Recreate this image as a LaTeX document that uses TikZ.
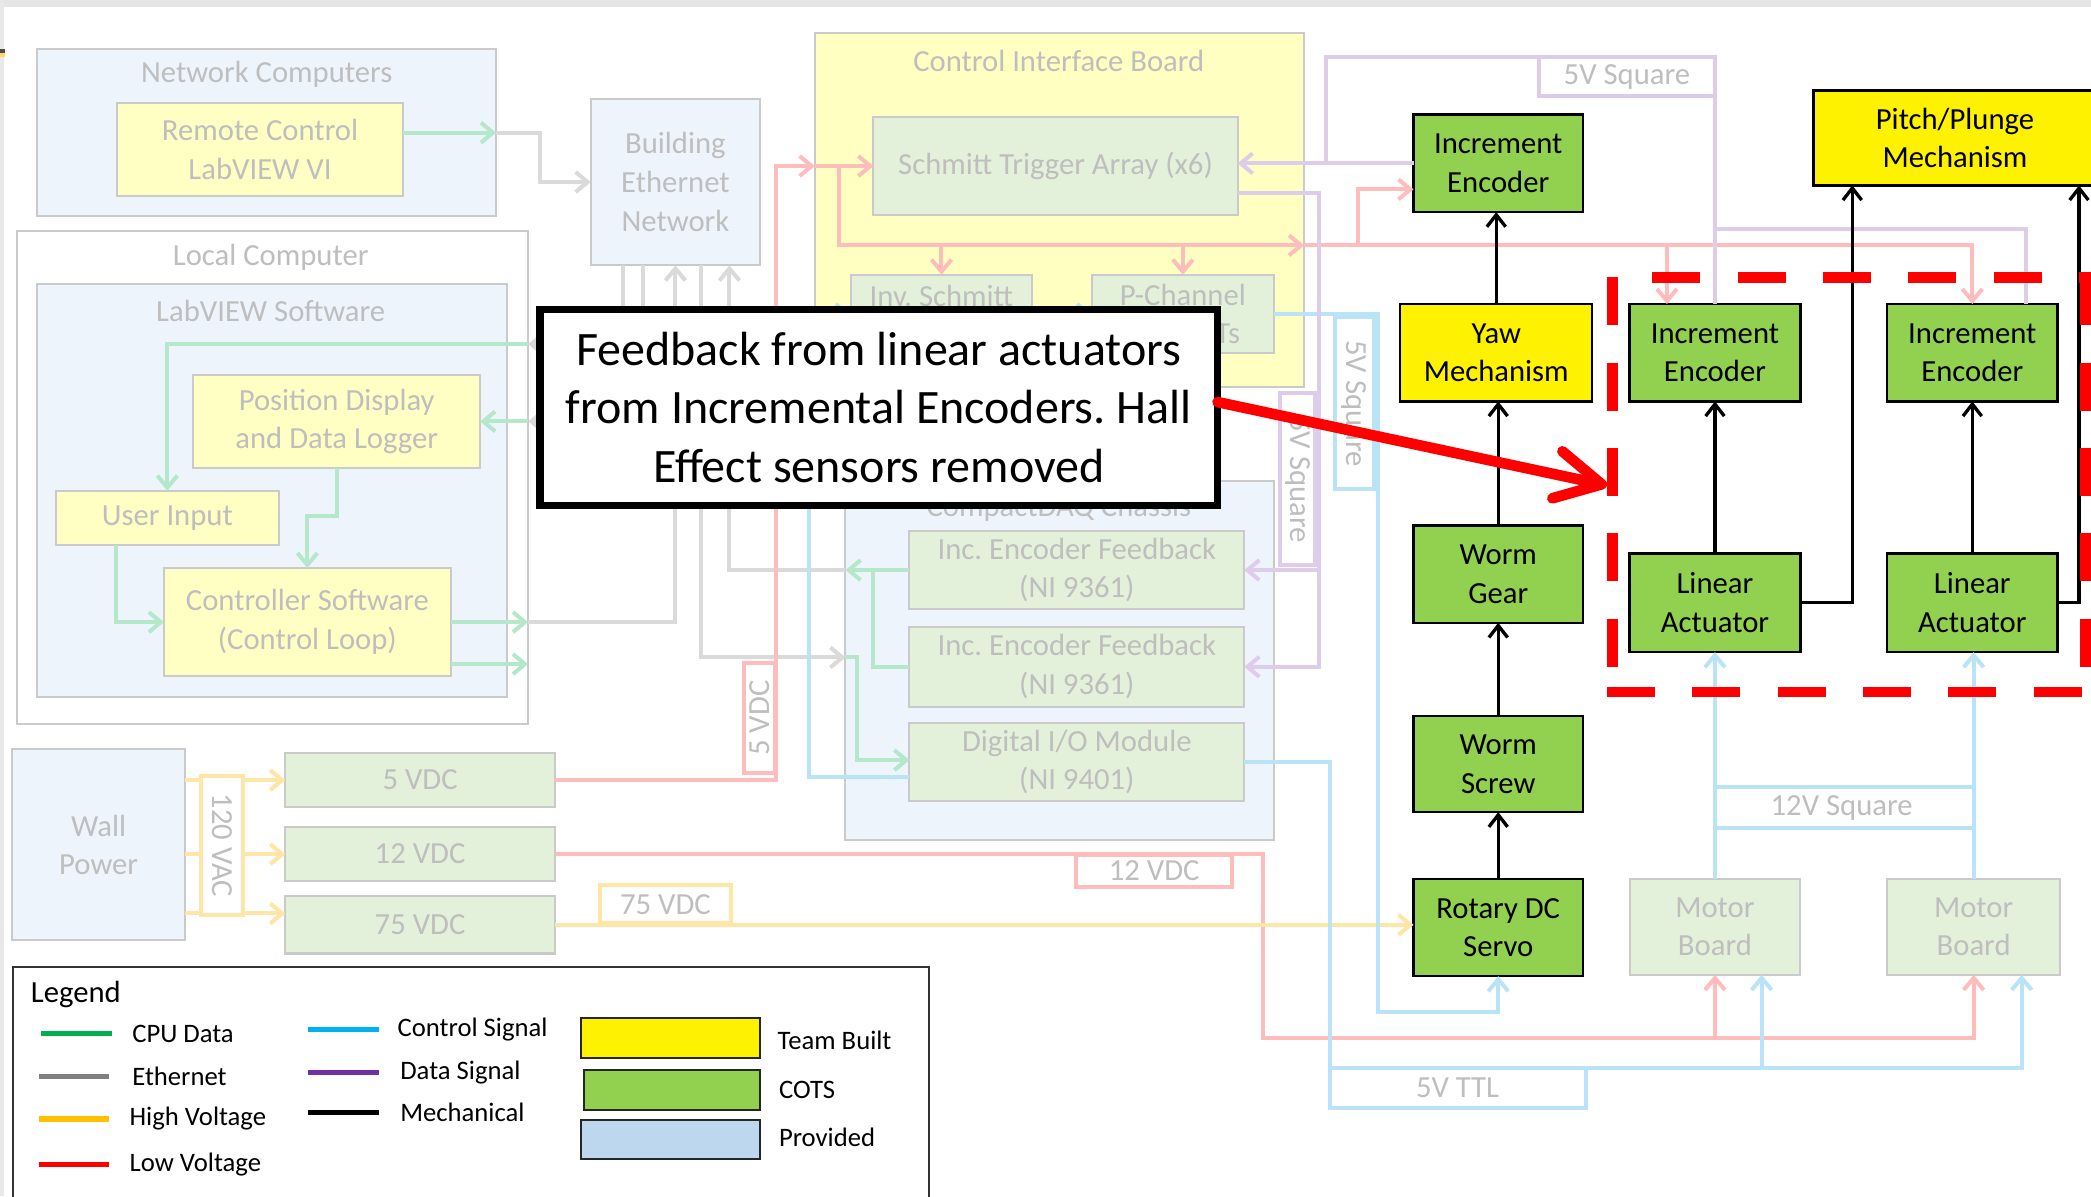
\documentclass[tikz,border=0pt]{standalone}
\usepackage{fontspec}
\setmainfont{Carlito}
\usetikzlibrary{arrows.meta}
\frenchspacing

% faded (background) palette
\definecolor{fgreenl}{HTML}{B5E8CB}
\definecolor{fgrayl}{HTML}{DADADA}
\definecolor{fredl}{HTML}{FFBCBC}
\definecolor{fyell}{HTML}{FFE6A6}
\definecolor{fbluel}{HTML}{B9E4F8}
\definecolor{fpurpl}{HTML}{DECDEA}
\definecolor{ftext}{HTML}{BEBEBE}
\definecolor{fborder}{HTML}{CACACA}
\definecolor{provfill}{HTML}{EEF4FB}
\definecolor{teamfade}{HTML}{FFFFC4}
\definecolor{cotsfade}{HTML}{E3F0DA}
\definecolor{cibfill}{HTML}{FFFFC2}
% solid palette
\definecolor{cotsgreen}{HTML}{92D050}
\definecolor{provblue}{HTML}{BDD7EE}
\definecolor{cpugreen}{HTML}{00B050}
\definecolor{ethgray}{HTML}{808080}
\definecolor{hvorange}{HTML}{FFC000}
\definecolor{ctlblue}{HTML}{00B0F0}
\definecolor{datapurple}{HTML}{7030A0}

% box by corner coordinates: name, style, x1, y1, x2, y2, text
\newcommand\mybox[7]{%
  \pgfmathsetmacro\bw{#5-#3}\pgfmathsetmacro\bh{#6-#4}%
  \pgfmathsetmacro\bcx{(#3+#5)/2}\pgfmathsetmacro\bcy{(#4+#6)/2}%
  \node[#2,minimum width=\bw pt,minimum height=\bh pt] (#1) at (\bcx,\bcy) {#7};}

\begin{document}
\begin{tikzpicture}[x=1pt,y=-1pt,
  box/.style={rectangle,inner sep=0pt,outer sep=0pt,align=center,
    font=\fontsize{23}{29}\selectfont},
  fadebox/.style={box,draw=fborder,line width=1.5pt,text=ftext},
  prov/.style={fadebox,fill=provfill},
  tbf/.style={fadebox,fill=teamfade},
  cbf/.style={fadebox,fill=cotsfade},
  team/.style={box,draw=black,line width=1.8pt,fill=yellow},
  cotsb/.style={box,draw=black,line width=1.8pt,fill=cotsgreen},
  ttl/.style={text=ftext,inner sep=0pt,font=\fontsize{23}{29}\selectfont},
  lbl/.style={box,fill=white,line width=3pt,text=ftext},
  wire/.style={line width=3pt},
  gw/.style={wire,fgreenl},
  ew/.style={wire,fgrayl},
  rw/.style={wire,fredl},
  yw/.style={wire,fyell},
  bw/.style={wire,fbluel},
  pw/.style={wire,fpurpl},
  tip/.style={-{Straight Barb[length=9pt,width=15pt]}},
  mech/.style={line width=2.5pt,black,-{Straight Barb[length=9pt,width=14pt]}},
  dbox/.style={line width=8pt,red,dash pattern=on 36pt off 28pt},
  lgline/.style={line width=4pt},
  lgtext/.style={anchor=west,inner sep=0pt,font=\fontsize{20}{24}\selectfont},
  swatch/.style={rectangle,inner sep=0pt,draw=black!85,line width=1.5pt}
]
\useasboundingbox (0,0) rectangle (1568,897);
\fill[white] (0,0) rectangle (1568,897);
% window edge
\fill[black!10] (0,0) rectangle (1568,5);
\fill[black!9] (0,0) rectangle (3,897);
\fill[black!70] (0,37) rectangle (4,40);
\fill[hvorange!60] (0,40) rectangle (4,43);

% ---------------- containers and faded blocks ----------------
\mybox{netc}{prov}{28}{37}{372}{162}{}
\node[ttl] (netct) at (200,56) {Network Computers};
\mybox{rcvi}{tbf}{88}{77}{302}{147}{Remote Control\\LabVIEW VI}
\mybox{ben}{prov}{443}{74}{570}{199}{Building\\Ethernet\\Network}
\mybox{locc}{fadebox,fill=white}{13}{173}{396}{543}{}
\node[ttl] (locct) at (203,193) {Local Computer};
\mybox{lvsw}{prov}{28}{213}{380}{523}{}
\node[ttl] (lvswt) at (203,233) {LabVIEW Software};
\mybox{posd}{tbf}{145}{281}{360}{351}{Position Display\\and Data Logger}
\mybox{uinp}{tbf}{42}{368}{209}{409}{User Input}
\mybox{ctrl}{tbf}{123}{426}{338}{507}{Controller Software\\(Control Loop)}
\mybox{cib}{fadebox,fill=cibfill}{611}{25}{978}{290}{}
\node[ttl] (cibt) at (794,46) {Control Interface Board};
\mybox{schm}{cbf}{655}{88}{928}{161}{Schmitt Trigger Array (x6)}
\mybox{invs}{cbf}{638}{206}{774}{265}{}
\node[ttl] (invst) at (706,222) {Inv. Schmitt};
\mybox{pch}{cbf}{819}{206}{955}{265}{P-Channel\\MOSFETs}
\mybox{cdaq}{prov}{634}{361}{955}{630}{}
\node[ttl] (cdaqt) at (794,381) {CompactDAQ Chassis};
\mybox{ief1}{cbf}{682}{398}{933}{457}{Inc. Encoder Feedback\\(NI 9361)}
\mybox{ief2}{cbf}{682}{470}{933}{530}{Inc. Encoder Feedback\\(NI 9361)}
\mybox{dio}{cbf}{682}{542}{933}{601}{Digital I/O Module\\(NI 9401)}
\mybox{wall}{prov}{9}{562}{139}{705}{Wall\\Power}
\mybox{v5}{cbf}{214}{565}{416}{605}{5 VDC}
\mybox{v12}{cbf}{214}{620}{416}{661}{12 VDC}
\mybox{v75}{cbf}{214}{672}{416}{715}{75 VDC}
\mybox{mb1}{cbf}{1222}{659}{1350}{731}{Motor\\Board}
\mybox{mb2}{cbf}{1415}{659}{1545}{731}{Motor\\Board}

% ---------------- mechanical chain ----------------
\mybox{enc0}{cotsb}{1060}{86}{1187}{159}{Increment\\Encoder}
\mybox{yaw}{team}{1050}{228}{1194}{301}{Yaw\\Mechanism}
\mybox{wgear}{cotsb}{1060}{394}{1187}{467}{Worm\\Gear}
\mybox{wscrew}{cotsb}{1060}{537}{1187}{609}{Worm\\Screw}
\mybox{rot}{cotsb}{1060}{659}{1187}{732}{Rotary DC\\Servo}
\mybox{enc1}{cotsb}{1222}{228}{1350}{301}{Increment\\Encoder}
\mybox{enc2}{cotsb}{1415}{228}{1543}{301}{Increment\\Encoder}
\mybox{la1}{cotsb}{1222}{415}{1350}{489}{Linear\\Actuator}
\mybox{la2}{cotsb}{1415}{415}{1543}{489}{Linear\\Actuator}
\mybox{pp}{team}{1360}{68}{1572}{139}{Pitch/Plunge\\Mechanism}

% ---------------- junction points ----------------
\coordinate (ej1) at (405,99.5);
\coordinate (lcin1) at (396,258);
\coordinate (lcin2) at (396,316);
\coordinate (bs1) at (467,199);
\coordinate (bs2) at (482,199);
\coordinate (bs4) at (526,199);
\coordinate (bs5) at (547,199);
\coordinate (cdin) at (634,493);
\coordinate (gj1) at (655,427.5);
\coordinate (rj1) at (582,124.5);
\coordinate (rj2) at (629,124.5);
\coordinate (rj3) at (978,184);
\coordinate (rj4) at (1018,184);
\coordinate (rj5) at (947,778);
\coordinate (bj1) at (997,801);
\coordinate (bj2) at (1033,759);
\coordinate (bj3) at (607,583);
\coordinate (pj0) at (994,122.5);
\coordinate (pj1) at (989,500);

% ---------------- CPU data ----------------
\draw[gw,tip] (rcvi.east |- netc.east) -- (netc.east);
\draw[gw,tip] (lcin1) -| (uinp.north);
\draw[gw,tip] (lcin2) -- (posd.east |- lcin2);
\draw[gw,tip] (posd.south) -- ++(0,36) -| (ctrl.north);
\draw[gw,tip] (uinp.south -| 87,0) |- (ctrl.west);
\draw[gw,tip] (ctrl.east) -- (ctrl.east -| locc.east);
\draw[gw,tip] (ctrl.east |- 0,498) -- (locc.east |- 0,498);
\draw[gw,tip] (ief1.west) -- (cdaq.west |- ief1.west);
\draw[gw] (ief2.west) -| (gj1);
\draw[gw,tip] (cdin) -- ++(9,0) |- (dio.west |- 0,570);

% ---------------- Ethernet ----------------
\draw[ew,tip] (netc.east) -- (ej1) |- (ben.west);
\draw[ew,tip] (bs1) |- (lcin1);
\draw[ew,tip] (bs2) |- (lcin2);
\draw[ew,tip] (ctrl.east -| locc.east) -| (ben.south);
\draw[ew,tip] (bs4) |- (cdin);
\draw[ew,tip] (cdaq.west |- ief1.west) -| (bs5);

% ---------------- low voltage ----------------
\draw[rw,tip] (v5.east) -| (rj1) -- (cib.west |- rj1);
\draw[rw,tip] (cib.west |- rj1) -- (schm.west |- rj1);
\draw[rw,tip] (rj2) |- (rj3);
\draw[rw,tip] (invs.north |- rj3) -- (invs.north);
\draw[rw,tip] (pch.north |- rj3) -- (pch.north);
\draw[rw,tip] (rj3) -- (rj4) |- (enc0.west |- 0,142);
\draw[rw,tip] (rj4) -| (enc2.north);
\draw[rw,tip] (rj4 -| 1250,0) -- (enc1.north -| 1250,0);
\draw[rw,tip] (v12.east) -| (rj5) -| (mb2.south);
\draw[rw,tip] (mb1.south |- rj5) -- (mb1.south);

% ---------------- high voltage ----------------
\draw[yw,tip] (wall.east |- v5.west) -- (v5.west);
\draw[yw,tip] (wall.east |- v12.west) -- (v12.west);
\draw[yw,tip] (wall.east |- 0,685) -- (v75.west |- 0,685);
\draw[yw,tip] (v75.east) -- (rot.west |- v75.east);

% ---------------- control signal ----------------
\draw[bw,tip] (dio.east) -| (bj1) -| (mb2.south -| 1516,0);
\draw[bw,tip] (bj1 -| 1321,0) -- (mb1.south -| 1321,0);
\draw[bw,tip] (pch.east) -| (bj2) -| (rot.south);
\draw[bw,tip] (dio.west |- bj3) -- (bj3) |- (invs.west);
\draw[bw,tip] (invs.east) -- (pch.west);
\draw[bw,tip] (mb1.north) -- (la1.south);
\draw[bw,tip] (mb2.north) -- (mb2.north |- la2.south);
\draw[bw] (mb1.north |- 0,590) -- (mb2.north |- 0,590);
\draw[bw] (mb1.north |- 0,621) -- (mb2.north |- 0,621);

% ---------------- data signal ----------------
\draw[pw,tip] (enc0.west) -- (schm.east |- enc0.west);
\draw[pw] (pj0) |- (enc1.north |- 0,43) -- (enc1.north);
\draw[pw] (enc1.north |- 0,172) -| (enc2.north -| 1519,0);
\draw[pw,tip] (schm.east |- 0,145) -| (pj1) -- (ief2.east);
\draw[pw,tip] (pj1 |- ief1.east) -- (ief1.east);

% ---------------- wire labels ----------------
\mybox{lsqtop}{lbl,draw=fpurpl}{1154}{43}{1286}{72}{5V Square}
\mybox{lsqpur}{lbl,draw=fpurpl}{960}{295}{986}{424}{}
\node[ttl,rotate=-90] (lsqpurt) at (lsqpur.center) {5V Square};
\mybox{lsqblu}{lbl,draw=fbluel}{1001}{238}{1030}{367}{}
\node[ttl,rotate=-90] (lsqblut) at (lsqblu.center) {5V Square};
\mybox{lvac}{lbl,draw=fyell}{151}{582}{182}{686}{}
\node[ttl,rotate=-90] (lvact) at (lvac.center) {120 VAC};
\mybox{l5vdc}{lbl,draw=fredl}{558}{497}{581}{580}{}
\node[ttl,rotate=90] (l5vdct) at (l5vdc.center) {5 VDC};
\mybox{l12vdc}{lbl,draw=fredl}{807}{641}{924}{665}{12 VDC}
\mybox{l75vdc}{lbl,draw=fyell}{450}{664}{548}{692}{75 VDC}
\mybox{lttl}{lbl,draw=fbluel}{997}{801}{1189}{831}{5V TTL}
\node[ttl] (lsq12) at (1381,606) {12V Square};

% ---------------- mechanical links ----------------
\draw[mech] (yaw.north) -- (yaw.north |- enc0.south);
\draw[mech] (wgear.north) -- (wgear.north |- yaw.south);
\draw[mech] (wscrew.north) -- (wgear.south);
\draw[mech] (rot.north) -- (wscrew.south);
\draw[mech] (la1.north) -- (enc1.south);
\draw[mech] (la2.north) -- (enc2.south);
\draw[mech] (la1.east) -| (pp.south -| 1389,0);
\draw[mech] (la2.east) -| (pp.south -| 1559,0);

% ---------------- annotation ----------------
\mybox{callout}{box,fill=white,draw=black,line width=5.5pt,
  font=\fontsize{36}{44}\selectfont}{405}{232}{913}{379}%
  {Feedback from linear actuators\\from Incremental Encoders. Hall\\Effect sensors removed}
\coordinate (cotip) at (1205,364);
\draw[line width=8pt,red,line cap=round,line join=round,
  -{Straight Barb[length=34pt,width=36pt,round]}] ([yshift=4pt]callout.east) -- (cotip);
\draw[dbox] (1209,208) -- (1209,519);
\draw[dbox] (1239,208) -- (1570,208);
\draw[dbox] (1205,519) -- (1570,519);
\draw[dbox] (1564,208) -- (1564,519);

% ---------------- legend ----------------
\draw[black!80,line width=1.5pt,fill=white] (10,905) |- (697,725) -- (697,905);
\node[lgtext,font=\fontsize{23}{28}\selectfont] (lgt) at (23,746) {Legend};
\draw[lgline,cpugreen] (31,775) -- (84,775);
\node[lgtext] (lg1) at (99,775) {CPU Data};
\draw[lgline,ethgray] (29,807) -- (82,807);
\node[lgtext] (lg2) at (99,807) {Ethernet};
\draw[lgline,hvorange] (29,839) -- (82,839);
\node[lgtext] (lg3) at (97,839) {High Voltage};
\draw[lgline,red] (29,873) -- (82,873);
\node[lgtext] (lg4) at (97,873) {Low Voltage};
\draw[lgline,ctlblue] (231,772) -- (284,772);
\node[lgtext] (lg5) at (298,772) {Control Signal};
\draw[lgline,datapurple] (231,804) -- (284,804);
\node[lgtext] (lg6) at (300,804) {Data Signal};
\draw[lgline,black] (231,834) -- (284,834);
\node[lgtext] (lg7) at (300,834) {Mechanical};
\mybox{sw1}{swatch,fill=yellow}{436}{763}{570}{793}{}
\node[lgtext] (lg8) at (583,780) {Team Built};
\mybox{sw2}{swatch,fill=cotsgreen}{438}{802}{570}{832}{}
\node[lgtext] (lg9) at (584,817) {COTS};
\mybox{sw3}{swatch,fill=provblue}{436}{840}{570}{869}{}
\node[lgtext] (lg10) at (584,853) {Provided};
\end{tikzpicture}
\end{document}
